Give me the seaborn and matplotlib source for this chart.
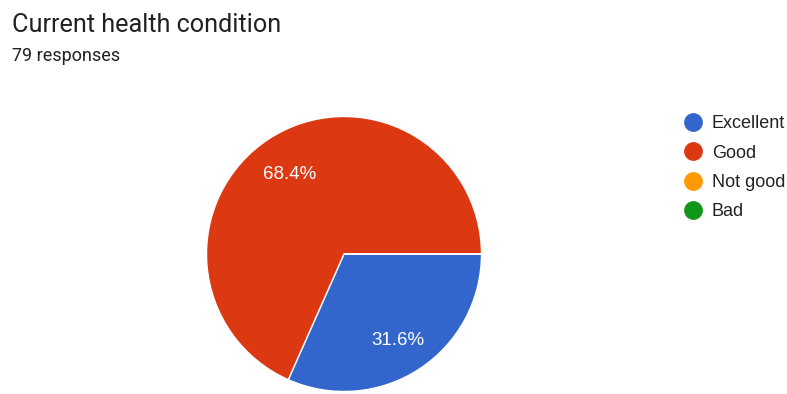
import matplotlib
matplotlib.use("Agg")
import matplotlib.pyplot as plt
from matplotlib.lines import Line2D
import seaborn as sns

categories = ["Excellent", "Good", "Not good", "Bad"]
counts = [25, 54, 0, 0]
colors = ["#3366CC", "#DC3912", "#FF9900", "#109618"]
title = "Current health condition"
subtitle = "79 responses"

sns.set_theme(style="white")
plt.rcParams["font.family"] = ["Liberation Sans", "DejaVu Sans"]

fig = plt.figure(figsize=(7.87, 3.94), dpi=100)
fig.patch.set_facecolor("white")

# pie box: 275 px square, left edge at 206.5 px, centre at y=254 px from top
ax = fig.add_axes([206.5 / 787, 2.5 / 394, 275 / 787, 275 / 394])


def pct_label(p):
    return f"{p:.1f}%" if p > 0.5 else ""


wedges, texts, autotexts = ax.pie(
    counts,
    colors=colors,
    startangle=0,
    counterclock=False,
    autopct=pct_label,
    pctdistance=0.72,
    wedgeprops=dict(edgecolor="white", linewidth=1),
    textprops=dict(color="white", fontsize=13.5),
)
# nudge the percentage labels down a few pixels like the original
for t in autotexts:
    x, y = t.get_position()
    t.set_position((x, y - 0.027))

ax.set_xlim(-1, 1)
ax.set_ylim(-1, 1)
ax.set_aspect("equal")
ax.axis("off")

fig.text(12 / 787, 1 - 32 / 394, title, fontsize=18.2, color="#212121",
         family=["Roboto", "DejaVu Sans"], va="baseline", ha="left")
fig.text(12 / 787, 1 - 61 / 394, subtitle, fontsize=13, color="#212121",
         family=["Roboto", "DejaVu Sans"], va="baseline", ha="left")

handles = [Line2D([], [], marker="o", linestyle="none", markersize=12.5,
                  markerfacecolor=c, markeredgecolor=c) for c in colors]
fig.legend(handles, categories, loc="upper left",
           bbox_to_anchor=(684 / 787, 1 - 115.5 / 394), frameon=False,
           fontsize=13, labelcolor="#222222", handlelength=1.0,
           handletextpad=0.55, labelspacing=0.68, borderpad=0, borderaxespad=0)

fig.savefig("out.png", dpi=100, facecolor="white")
